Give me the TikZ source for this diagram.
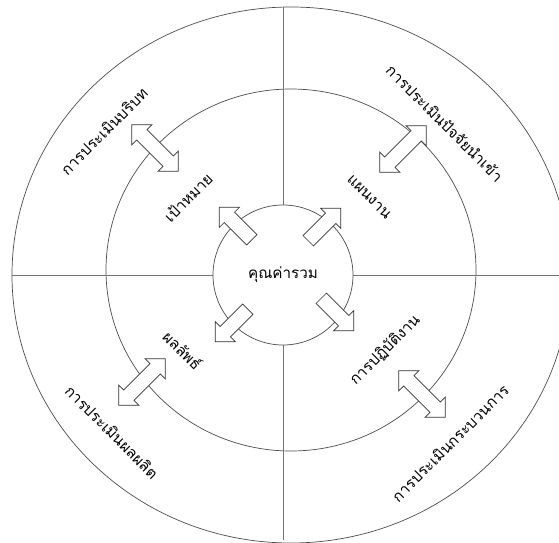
\documentclass[tikz,border=0pt]{standalone}
\usepackage{fontspec}
\newfontfamily\thaifont[Script=Thai]{Loma}
\usetikzlibrary{shapes.geometric,shapes.arrows}

\begin{document}
\begin{tikzpicture}[x=0.3mm, y=-0.3mm]
  \tikzset{ring/.style={draw=black!70, line width=0.6pt, ellipse, inner sep=0pt},
           spoke/.style={draw=black!55, line width=0.8pt},
           outarrow/.style={single arrow, draw=black!80, fill=white, line width=0.6pt,
                            inner sep=2.1mm, single arrow head extend=2.1mm,
                            minimum height=13.8mm, anchor=tail},
           twoway/.style={double arrow, draw=black!80, fill=white, line width=0.6pt,
                          inner sep=2.1mm, double arrow head extend=2.1mm,
                          minimum height=19.8mm},
           ringlabel/.style={font=\thaifont\fontsize{13}{15}\selectfont, inner sep=0pt}}
  \useasboundingbox (0,0) rectangle (559,543);

  % rings
  \node[ring, minimum width=167.4mm, minimum height=160.8mm] (outer) at (291,275) {};
  \node[ring, minimum width=111mm, minimum height=108.6mm] (mid) at (291,270) {};
  \node[ring, circle, minimum size=42mm, font=\thaifont\fontsize{13}{15}\selectfont] (core) at (283,275) {คุณค่ารวม};

  % spokes
  \draw[spoke] (outer.west |- core.west) -- (core.west);
  \draw[spoke] (core.east) -- (outer.east |- core.east);
  \draw[spoke] (core.north |- 0,7) -- (core.north);
  \draw[spoke] (core.south) -- (core.south |- 0,540);

  % arrows out of the core
  \node[outarrow, rotate=135] (toGoal) at (252,240) {};
  \node[outarrow, rotate=45] (toPlan) at (308,241) {};
  \node[outarrow, rotate=225] (toResult) at (248,309) {};
  \node[outarrow, rotate=-45] (toAction) at (321,298) {};

  % arrows across the middle ring
  \node[twoway, rotate=-45] (linkContext) at (155,148) {};
  \node[twoway, rotate=45] (linkInput) at (403,149) {};
  \node[twoway, rotate=45] (linkProduct) at (142,382) {};
  \node[twoway, rotate=-45] (linkProcess) at (422,394) {};

  % labels
  \node[ringlabel, rotate=45] (goal) at (188,197) {เป้าหมาย};
  \node[ringlabel, rotate=-45] (plan) at (369,197) {แผนงาน};
  \node[ringlabel, rotate=-45] (result) at (183,350) {ผลลัพธ์};
  \node[ringlabel, rotate=45] (action) at (385,350) {การปฏิบัติงาน};
  \node[ringlabel, rotate=45] (context) at (104,131) {การประเมินบริบท};
  \node[ringlabel, rotate=-45] (input) at (445,123) {การประเมินปัจจัยนำเข้า};
  \node[ringlabel, rotate=-45] (product) at (112,432) {การประเมินผลผลิต};
  \node[ringlabel, rotate=45] (process) at (450,443) {การประเมินกระบวนการ};
\end{tikzpicture}
\end{document}
